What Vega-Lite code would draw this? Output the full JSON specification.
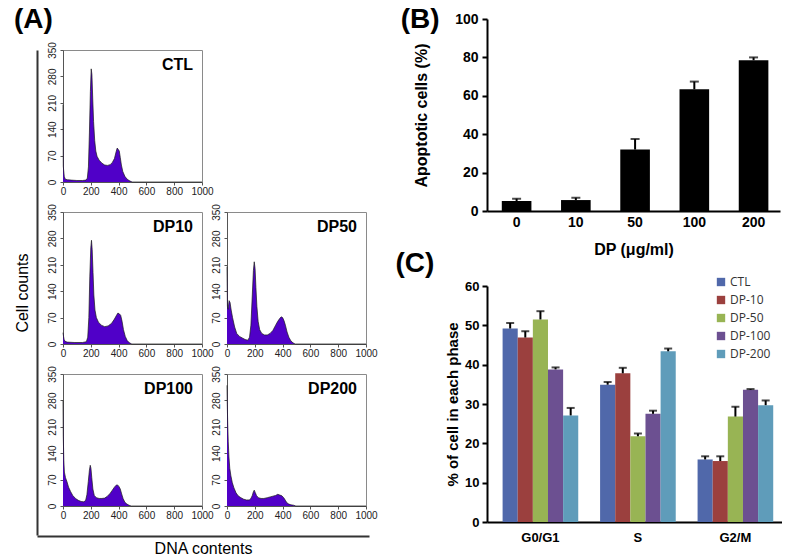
{
  "$schema": "https://vega.github.io/schema/vega-lite/v6.json",
  "padding": {"left": 14, "top": 6, "right": 0, "bottom": 0},
  "background": "white",
  "config": {"font": "Liberation Sans", "view": {"stroke": null}, "axis": {"grid": false, "labelOverlap": false}},
  "datasets": {
    "hist": [
      {"s":"CTL","x":0,"c":205},{"s":"CTL","x":2,"c":42},{"s":"CTL","x":5,"c":30},{"s":"CTL","x":9,"c":15},{"s":"CTL","x":15,"c":8},{"s":"CTL","x":30,"c":6},{"s":"CTL","x":60,"c":5},{"s":"CTL","x":100,"c":4},{"s":"CTL","x":140,"c":4},{"s":"CTL","x":165,"c":5},{"s":"CTL","x":175,"c":10},{"s":"CTL","x":183,"c":40},{"s":"CTL","x":190,"c":130},{"s":"CTL","x":197,"c":240},{"s":"CTL","x":203,"c":300},{"s":"CTL","x":208,"c":285},{"s":"CTL","x":214,"c":220},{"s":"CTL","x":220,"c":160},{"s":"CTL","x":228,"c":110},{"s":"CTL","x":236,"c":82},{"s":"CTL","x":245,"c":68},{"s":"CTL","x":260,"c":58},{"s":"CTL","x":280,"c":50},{"s":"CTL","x":300,"c":45},{"s":"CTL","x":320,"c":44},{"s":"CTL","x":340,"c":46},{"s":"CTL","x":355,"c":52},{"s":"CTL","x":370,"c":62},{"s":"CTL","x":382,"c":80},{"s":"CTL","x":390,"c":90},{"s":"CTL","x":398,"c":86},{"s":"CTL","x":405,"c":82},{"s":"CTL","x":412,"c":65},{"s":"CTL","x":420,"c":45},{"s":"CTL","x":430,"c":28},{"s":"CTL","x":445,"c":15},{"s":"CTL","x":460,"c":8},{"s":"CTL","x":475,"c":4},{"s":"CTL","x":490,"c":1},{"s":"CTL","x":500,"c":0},{"s":"CTL","x":1000,"c":0},
      {"s":"DP10","x":0,"c":30},{"s":"DP10","x":4,"c":20},{"s":"DP10","x":8,"c":12},{"s":"DP10","x":15,"c":7},{"s":"DP10","x":30,"c":5},{"s":"DP10","x":80,"c":4},{"s":"DP10","x":140,"c":4},{"s":"DP10","x":168,"c":6},{"s":"DP10","x":178,"c":18},{"s":"DP10","x":186,"c":70},{"s":"DP10","x":193,"c":180},{"s":"DP10","x":200,"c":255},{"s":"DP10","x":205,"c":275},{"s":"DP10","x":210,"c":250},{"s":"DP10","x":216,"c":190},{"s":"DP10","x":222,"c":130},{"s":"DP10","x":230,"c":90},{"s":"DP10","x":240,"c":70},{"s":"DP10","x":255,"c":58},{"s":"DP10","x":275,"c":50},{"s":"DP10","x":300,"c":46},{"s":"DP10","x":325,"c":48},{"s":"DP10","x":350,"c":55},{"s":"DP10","x":370,"c":66},{"s":"DP10","x":385,"c":76},{"s":"DP10","x":395,"c":82},{"s":"DP10","x":405,"c":80},{"s":"DP10","x":415,"c":76},{"s":"DP10","x":425,"c":60},{"s":"DP10","x":435,"c":38},{"s":"DP10","x":448,"c":20},{"s":"DP10","x":462,"c":9},{"s":"DP10","x":478,"c":3},{"s":"DP10","x":495,"c":0},{"s":"DP10","x":1000,"c":0},
      {"s":"DP50","x":0,"c":205},{"s":"DP50","x":3,"c":100},{"s":"DP50","x":8,"c":92},{"s":"DP50","x":15,"c":115},{"s":"DP50","x":22,"c":110},{"s":"DP50","x":30,"c":90},{"s":"DP50","x":40,"c":70},{"s":"DP50","x":55,"c":45},{"s":"DP50","x":70,"c":28},{"s":"DP50","x":90,"c":20},{"s":"DP50","x":110,"c":16},{"s":"DP50","x":130,"c":12},{"s":"DP50","x":150,"c":10},{"s":"DP50","x":162,"c":18},{"s":"DP50","x":172,"c":50},{"s":"DP50","x":182,"c":130},{"s":"DP50","x":190,"c":195},{"s":"DP50","x":196,"c":218},{"s":"DP50","x":202,"c":200},{"s":"DP50","x":208,"c":150},{"s":"DP50","x":215,"c":100},{"s":"DP50","x":224,"c":60},{"s":"DP50","x":235,"c":38},{"s":"DP50","x":250,"c":28},{"s":"DP50","x":270,"c":24},{"s":"DP50","x":290,"c":24},{"s":"DP50","x":310,"c":28},{"s":"DP50","x":330,"c":36},{"s":"DP50","x":350,"c":50},{"s":"DP50","x":365,"c":60},{"s":"DP50","x":380,"c":68},{"s":"DP50","x":390,"c":72},{"s":"DP50","x":400,"c":70},{"s":"DP50","x":410,"c":62},{"s":"DP50","x":420,"c":50},{"s":"DP50","x":432,"c":32},{"s":"DP50","x":445,"c":18},{"s":"DP50","x":460,"c":8},{"s":"DP50","x":475,"c":3},{"s":"DP50","x":490,"c":0},{"s":"DP50","x":1000,"c":0},
      {"s":"DP100","x":0,"c":280},{"s":"DP100","x":2,"c":185},{"s":"DP100","x":6,"c":120},{"s":"DP100","x":10,"c":90},{"s":"DP100","x":18,"c":75},{"s":"DP100","x":28,"c":65},{"s":"DP100","x":40,"c":50},{"s":"DP100","x":55,"c":38},{"s":"DP100","x":70,"c":28},{"s":"DP100","x":90,"c":20},{"s":"DP100","x":110,"c":15},{"s":"DP100","x":130,"c":12},{"s":"DP100","x":150,"c":11},{"s":"DP100","x":163,"c":15},{"s":"DP100","x":172,"c":30},{"s":"DP100","x":182,"c":65},{"s":"DP100","x":190,"c":95},{"s":"DP100","x":196,"c":108},{"s":"DP100","x":201,"c":100},{"s":"DP100","x":207,"c":75},{"s":"DP100","x":215,"c":45},{"s":"DP100","x":225,"c":28},{"s":"DP100","x":240,"c":22},{"s":"DP100","x":260,"c":20},{"s":"DP100","x":280,"c":20},{"s":"DP100","x":300,"c":21},{"s":"DP100","x":320,"c":26},{"s":"DP100","x":340,"c":34},{"s":"DP100","x":355,"c":42},{"s":"DP100","x":370,"c":50},{"s":"DP100","x":382,"c":55},{"s":"DP100","x":392,"c":56},{"s":"DP100","x":402,"c":52},{"s":"DP100","x":412,"c":45},{"s":"DP100","x":422,"c":32},{"s":"DP100","x":432,"c":20},{"s":"DP100","x":445,"c":10},{"s":"DP100","x":460,"c":5},{"s":"DP100","x":475,"c":2},{"s":"DP100","x":490,"c":0},{"s":"DP100","x":1000,"c":0},
      {"s":"DP200","x":0,"c":320},{"s":"DP200","x":2,"c":270},{"s":"DP200","x":5,"c":220},{"s":"DP200","x":9,"c":170},{"s":"DP200","x":14,"c":130},{"s":"DP200","x":20,"c":100},{"s":"DP200","x":28,"c":80},{"s":"DP200","x":38,"c":62},{"s":"DP200","x":50,"c":48},{"s":"DP200","x":65,"c":35},{"s":"DP200","x":80,"c":27},{"s":"DP200","x":100,"c":22},{"s":"DP200","x":120,"c":18},{"s":"DP200","x":140,"c":16},{"s":"DP200","x":160,"c":16},{"s":"DP200","x":172,"c":20},{"s":"DP200","x":182,"c":28},{"s":"DP200","x":190,"c":38},{"s":"DP200","x":196,"c":42},{"s":"DP200","x":203,"c":36},{"s":"DP200","x":212,"c":28},{"s":"DP200","x":225,"c":22},{"s":"DP200","x":245,"c":20},{"s":"DP200","x":265,"c":20},{"s":"DP200","x":290,"c":22},{"s":"DP200","x":310,"c":24},{"s":"DP200","x":330,"c":26},{"s":"DP200","x":350,"c":28},{"s":"DP200","x":365,"c":31},{"s":"DP200","x":380,"c":29},{"s":"DP200","x":395,"c":27},{"s":"DP200","x":408,"c":22},{"s":"DP200","x":420,"c":15},{"s":"DP200","x":432,"c":8},{"s":"DP200","x":445,"c":5},{"s":"DP200","x":460,"c":3},{"s":"DP200","x":480,"c":2},{"s":"DP200","x":495,"c":0},{"s":"DP200","x":1000,"c":0}
    ],
    "apop": [
      {"dose":"0","pct":5.2,"hi":6.4},
      {"dose":"10","pct":5.7,"hi":6.9},
      {"dose":"50","pct":32.0,"hi":37.5},
      {"dose":"100","pct":63.4,"hi":67.4},
      {"dose":"200","pct":78.5,"hi":80.0}
    ],
    "phase": [
      {"phase":"G0/G1","grp":"CTL","pct":49.2,"hi":50.6},
      {"phase":"G0/G1","grp":"DP-10","pct":46.9,"hi":48.5},
      {"phase":"G0/G1","grp":"DP-50","pct":51.5,"hi":53.6},
      {"phase":"G0/G1","grp":"DP-100","pct":38.8,"hi":39.3},
      {"phase":"G0/G1","grp":"DP-200","pct":27.1,"hi":29.0},
      {"phase":"S","grp":"CTL","pct":34.9,"hi":35.6},
      {"phase":"S","grp":"DP-10","pct":37.8,"hi":39.2},
      {"phase":"S","grp":"DP-50","pct":21.8,"hi":22.5},
      {"phase":"S","grp":"DP-100","pct":27.5,"hi":28.3},
      {"phase":"S","grp":"DP-200","pct":43.4,"hi":44.1},
      {"phase":"G2/M","grp":"CTL","pct":15.9,"hi":16.7},
      {"phase":"G2/M","grp":"DP-10","pct":15.5,"hi":16.7},
      {"phase":"G2/M","grp":"DP-50","pct":26.8,"hi":29.3},
      {"phase":"G2/M","grp":"DP-100","pct":33.6,"hi":33.8},
      {"phase":"G2/M","grp":"DP-200","pct":29.7,"hi":30.9}
    ]
  },
  "spacing": 17,
  "resolve": {"scale": {"color": "independent"}, "legend": {"color": "independent"}},
  "hconcat": [
    {
      "title": {"text": "(A)", "anchor": "start", "fontSize": 28, "fontWeight": "bold", "color": "black", "offset": -15},
      "spacing": 0,
      "vconcat": [
        {"width": 1, "height": 21.5, "data": {"values": [{"v": 0}]}, "mark": {"type": "point", "size": 0, "opacity": 0}, "encoding": {}},
        {
          "spacing": 8,
          "hconcat": [
            {
              "width": 1, "height": 485,
              "data": {"values": [{"v": 0.5}]},
              "mark": {"type": "point", "size": 0, "opacity": 0},
              "encoding": {
                "y": {"field": "v", "type": "quantitative", "scale": {"domain": [0, 1]},
                      "axis": {"title": "Cell counts", "labels": false, "ticks": false, "domainColor": "#333", "domainWidth": 2, "titleFontSize": 16, "titleFontWeight": "normal", "titleColor": "black", "titlePadding": 7}}
              }
            },
            {
              "columns": 2, "bounds": "flush", "spacing": {"row": 30, "column": 25},
              "concat": [
                {"width": 139, "height": 132, "view": {"stroke": "#8a8a8a"},
                 "title": {"text": "CTL", "anchor": "end", "frame": "group", "fontSize": 16, "fontWeight": "bold", "color": "black", "offset": -31, "dx": -9},
                 "data": {"name": "hist"}, "transform": [{"filter": "datum.s === 'CTL'"}],
                 "mark": {"type": "area", "color": "#5000c8", "opacity": 1, "line": {"color": "#1a1a1a", "strokeWidth": 0.7}},
                 "encoding": {
                   "x": {"field": "x", "type": "quantitative", "scale": {"domain": [0, 1000], "nice": false}, "axis": {"values": [0,200,400,600,800,1000], "format": "d", "title": null, "labelFontSize": 10, "labelColor": "#222", "tickSize": 3, "tickColor": "#555", "domainColor": "#555", "labelPadding": 1, "labelFlush": false, "labelOverlap": false}},
                   "y": {"field": "c", "type": "quantitative", "scale": {"domain": [0, 350], "nice": false}, "axis": {"values": [0,70,140,210,280,350], "title": null, "labelFontSize": 10, "labelColor": "#222", "labelAngle": 270, "labelAlign": "center", "labelBaseline": "bottom", "tickSize": 3, "tickColor": "#555", "domainColor": "#555", "labelPadding": 3, "labelFlush": false, "labelOverlap": false}}
                 }},
                {"width": 139, "height": 132, "data": {"values": [{"v": 0}]}, "mark": {"type": "point", "size": 0, "opacity": 0}, "encoding": {}},
                {"width": 139, "height": 132, "view": {"stroke": "#8a8a8a"},
                 "title": {"text": "DP10", "anchor": "end", "frame": "group", "fontSize": 16, "fontWeight": "bold", "color": "black", "offset": -31, "dx": -9},
                 "data": {"name": "hist"}, "transform": [{"filter": "datum.s === 'DP10'"}],
                 "mark": {"type": "area", "color": "#5000c8", "opacity": 1, "line": {"color": "#1a1a1a", "strokeWidth": 0.7}},
                 "encoding": {
                   "x": {"field": "x", "type": "quantitative", "scale": {"domain": [0, 1000], "nice": false}, "axis": {"values": [0,200,400,600,800,1000], "format": "d", "title": null, "labelFontSize": 10, "labelColor": "#222", "tickSize": 3, "tickColor": "#555", "domainColor": "#555", "labelPadding": 1, "labelFlush": false, "labelOverlap": false}},
                   "y": {"field": "c", "type": "quantitative", "scale": {"domain": [0, 350], "nice": false}, "axis": {"values": [0,70,140,210,280,350], "title": null, "labelFontSize": 10, "labelColor": "#222", "labelAngle": 270, "labelAlign": "center", "labelBaseline": "bottom", "tickSize": 3, "tickColor": "#555", "domainColor": "#555", "labelPadding": 3, "labelFlush": false, "labelOverlap": false}}
                 }},
                {"width": 139, "height": 132, "view": {"stroke": "#8a8a8a"},
                 "title": {"text": "DP50", "anchor": "end", "frame": "group", "fontSize": 16, "fontWeight": "bold", "color": "black", "offset": -31, "dx": -9},
                 "data": {"name": "hist"}, "transform": [{"filter": "datum.s === 'DP50'"}],
                 "mark": {"type": "area", "color": "#5000c8", "opacity": 1, "line": {"color": "#1a1a1a", "strokeWidth": 0.7}},
                 "encoding": {
                   "x": {"field": "x", "type": "quantitative", "scale": {"domain": [0, 1000], "nice": false}, "axis": {"values": [0,200,400,600,800,1000], "format": "d", "title": null, "labelFontSize": 10, "labelColor": "#222", "tickSize": 3, "tickColor": "#555", "domainColor": "#555", "labelPadding": 1, "labelFlush": false, "labelOverlap": false}},
                   "y": {"field": "c", "type": "quantitative", "scale": {"domain": [0, 350], "nice": false}, "axis": {"values": [0,70,140,210,280,350], "title": null, "labelFontSize": 10, "labelColor": "#222", "labelAngle": 270, "labelAlign": "center", "labelBaseline": "bottom", "tickSize": 3, "tickColor": "#555", "domainColor": "#555", "labelPadding": 3, "labelFlush": false, "labelOverlap": false}}
                 }},
                {"width": 139, "height": 132, "view": {"stroke": "#8a8a8a"},
                 "title": {"text": "DP100", "anchor": "end", "frame": "group", "fontSize": 16, "fontWeight": "bold", "color": "black", "offset": -31, "dx": -9},
                 "data": {"name": "hist"}, "transform": [{"filter": "datum.s === 'DP100'"}],
                 "mark": {"type": "area", "color": "#5000c8", "opacity": 1, "line": {"color": "#1a1a1a", "strokeWidth": 0.7}},
                 "encoding": {
                   "x": {"field": "x", "type": "quantitative", "scale": {"domain": [0, 1000], "nice": false}, "axis": {"values": [0,200,400,600,800,1000], "format": "d", "title": null, "labelFontSize": 10, "labelColor": "#222", "tickSize": 3, "tickColor": "#555", "domainColor": "#555", "labelPadding": 1, "labelFlush": false, "labelOverlap": false}},
                   "y": {"field": "c", "type": "quantitative", "scale": {"domain": [0, 350], "nice": false}, "axis": {"values": [0,70,140,210,280,350], "title": null, "labelFontSize": 10, "labelColor": "#222", "labelAngle": 270, "labelAlign": "center", "labelBaseline": "bottom", "tickSize": 3, "tickColor": "#555", "domainColor": "#555", "labelPadding": 3, "labelFlush": false, "labelOverlap": false}}
                 }},
                {"width": 139, "height": 132, "view": {"stroke": "#8a8a8a"},
                 "title": {"text": "DP200", "anchor": "end", "frame": "group", "fontSize": 16, "fontWeight": "bold", "color": "black", "offset": -31, "dx": -9},
                 "data": {"name": "hist"}, "transform": [{"filter": "datum.s === 'DP200'"}],
                 "mark": {"type": "area", "color": "#5000c8", "opacity": 1, "line": {"color": "#1a1a1a", "strokeWidth": 0.7}},
                 "encoding": {
                   "x": {"field": "x", "type": "quantitative", "scale": {"domain": [0, 1000], "nice": false}, "axis": {"values": [0,200,400,600,800,1000], "format": "d", "title": null, "labelFontSize": 10, "labelColor": "#222", "tickSize": 3, "tickColor": "#555", "domainColor": "#555", "labelPadding": 1, "labelFlush": false, "labelOverlap": false}},
                   "y": {"field": "c", "type": "quantitative", "scale": {"domain": [0, 350], "nice": false}, "axis": {"values": [0,70,140,210,280,350], "title": null, "labelFontSize": 10, "labelColor": "#222", "labelAngle": 270, "labelAlign": "center", "labelBaseline": "bottom", "tickSize": 3, "tickColor": "#555", "domainColor": "#555", "labelPadding": 3, "labelFlush": false, "labelOverlap": false}}
                 }}
              ]
            }
          ]
        },
        {
          "width": 332, "height": 1,
          "data": {"values": [{"v": 0.5}]},
          "mark": {"type": "point", "size": 0, "opacity": 0},
          "encoding": {
            "x": {"field": "v", "type": "quantitative", "scale": {"domain": [0, 1]},
                  "axis": {"title": "DNA contents", "labels": false, "ticks": false, "domainColor": "#333", "domainWidth": 2, "titleFontSize": 16, "titleFontWeight": "normal", "titleColor": "black", "titlePadding": 4}}
          }
        }
      ]
    },
    {
      "spacing": -7,
      "resolve": {"scale": {"color": "independent"}, "legend": {"color": "independent"}},
      "vconcat": [
        {
          "width": 293, "height": 192,
          "title": {"text": "(B)", "anchor": "start", "fontSize": 28, "fontWeight": "bold", "color": "black", "offset": -22, "dx": -13},
          "data": {"name": "apop"},
          "encoding": {
            "x": {"field": "dose", "type": "nominal", "sort": null, "title": "DP (μg/ml)",
                  "scale": {"paddingInner": 0.5, "paddingOuter": 0.223, "align": 0.56},
                  "axis": {"labelAngle": 0, "labelFontSize": 14, "labelFontWeight": "bold", "labelColor": "black", "ticks": false, "domainColor": "black", "domainWidth": 2, "labelPadding": 4, "titleFontSize": 16, "titleFontWeight": "bold", "titleColor": "black", "titlePadding": 12}}
          },
          "layer": [
            {"mark": {"type": "bar", "color": "black"},
             "encoding": {"y": {"field": "pct", "type": "quantitative", "title": "Apoptotic cells (%)", "scale": {"domain": [0, 100]},
               "axis": {"values": [0,20,40,60,80,100], "labelOverlap": false, "labelFontSize": 14, "labelFontWeight": "bold", "labelColor": "black", "domainColor": "black", "domainWidth": 2, "tickColor": "black", "tickWidth": 2, "tickSize": 5, "labelPadding": 4, "titleFontSize": 16, "titleFontWeight": "bold", "titleColor": "black", "titlePadding": 25}}}},
            {"mark": {"type": "rule", "color": "black", "strokeWidth": 2},
             "encoding": {"y": {"field": "pct", "type": "quantitative", "title": "Apoptotic cells (%)",
               "axis": {"values": [0,20,40,60,80,100], "labelOverlap": false, "labelFontSize": 14, "labelFontWeight": "bold", "labelColor": "black", "domainColor": "black", "domainWidth": 2, "tickColor": "black", "tickWidth": 2, "tickSize": 5, "labelPadding": 4, "titleFontSize": 16, "titleFontWeight": "bold", "titleColor": "black", "titlePadding": 25}}, "y2": {"field": "hi"}}},
            {"mark": {"type": "tick", "color": "black", "thickness": 2, "size": 9},
             "encoding": {"y": {"field": "hi", "type": "quantitative", "title": "Apoptotic cells (%)",
               "axis": {"values": [0,20,40,60,80,100], "labelOverlap": false, "labelFontSize": 14, "labelFontWeight": "bold", "labelColor": "black", "domainColor": "black", "domainWidth": 2, "tickColor": "black", "tickWidth": 2, "tickSize": 5, "labelPadding": 4, "titleFontSize": 16, "titleFontWeight": "bold", "titleColor": "black", "titlePadding": 25}}}}
          ]
        },
        {
          "width": 295, "height": 236,
          "title": {"text": "(C)", "anchor": "start", "fontSize": 28, "fontWeight": "bold", "color": "black", "offset": 0, "dy": 2, "dx": -50},
          "data": {"name": "phase"},
          "encoding": {
            "x": {"field": "phase", "type": "nominal", "sort": null, "title": null,
                  "scale": {"paddingInner": 0.224, "paddingOuter": 0.125, "align": 0.64},
                  "axis": {"labelAngle": 0, "labelFontSize": 13, "labelFontWeight": "bold", "labelColor": "black", "ticks": false, "domainColor": "black", "domainWidth": 2, "labelPadding": 9}},
            "xOffset": {"field": "grp", "type": "nominal", "sort": null, "scale": {"paddingInner": 0, "paddingOuter": 0}}
          },
          "layer": [
            {"mark": {"type": "bar"},
             "encoding": {
               "y": {"field": "pct", "type": "quantitative", "title": "% of cell in each phase", "scale": {"domain": [0, 60]},
                 "axis": {"values": [0,10,20,30,40,50,60], "labelOverlap": false, "labelFontSize": 13, "labelFontWeight": "bold", "labelColor": "black", "domainColor": "black", "domainWidth": 2, "tickColor": "black", "tickWidth": 2, "tickSize": 5, "labelPadding": 3, "titleFontSize": 15, "titleFontWeight": "bold", "titleColor": "black", "titlePadding": 4}},
               "color": {"field": "grp", "type": "nominal", "sort": null,
                 "scale": {"domain": ["CTL","DP-10","DP-50","DP-100","DP-200"], "range": ["#5068aa","#9b403e","#98b454","#6c5091","#5f9cba"]},
                 "legend": {"title": null, "orient": "none", "legendX": 228, "legendY": -10, "symbolType": "square", "symbolSize": 70, "symbolStrokeWidth": 0, "labelFont": "Open Sans", "labelFontSize": 12, "labelColor": "#333", "rowPadding": 6, "labelOffset": 3, "padding": 0}}
             }},
            {"mark": {"type": "rule", "color": "black", "strokeWidth": 2},
             "encoding": {"y": {"field": "pct", "type": "quantitative", "title": "% of cell in each phase",
               "axis": {"values": [0,10,20,30,40,50,60], "labelOverlap": false, "labelFontSize": 13, "labelFontWeight": "bold", "labelColor": "black", "domainColor": "black", "domainWidth": 2, "tickColor": "black", "tickWidth": 2, "tickSize": 5, "labelPadding": 3, "titleFontSize": 15, "titleFontWeight": "bold", "titleColor": "black", "titlePadding": 4}}, "y2": {"field": "hi"}}},
            {"mark": {"type": "tick", "color": "black", "thickness": 2, "size": 8},
             "encoding": {"y": {"field": "hi", "type": "quantitative", "title": "% of cell in each phase",
               "axis": {"values": [0,10,20,30,40,50,60], "labelOverlap": false, "labelFontSize": 13, "labelFontWeight": "bold", "labelColor": "black", "domainColor": "black", "domainWidth": 2, "tickColor": "black", "tickWidth": 2, "tickSize": 5, "labelPadding": 3, "titleFontSize": 15, "titleFontWeight": "bold", "titleColor": "black", "titlePadding": 4}}}}
          ]
        }
      ]
    }
  ]
}
